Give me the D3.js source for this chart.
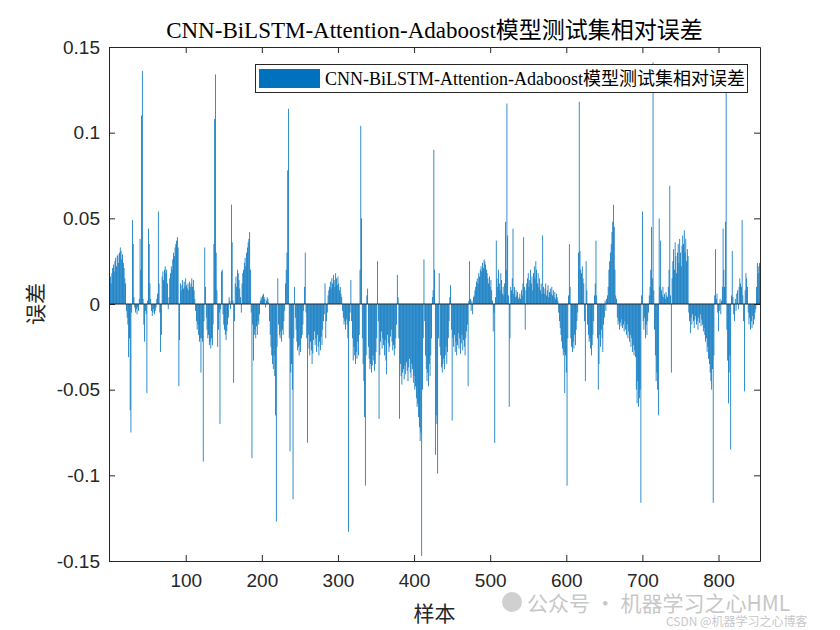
<!DOCTYPE html>
<html><head><meta charset="utf-8">
<script src="https://cdn.jsdelivr.net/npm/d3@7"></script>
<style>body{margin:0;background:#fff;} svg{display:block}</style>
</head><body>
<svg id="c" width="840" height="630"></svg>
<script>
const titleText = "CNN-BiLSTM-Attention-Adaboost模型测试集相对误差";
const legendLabel = "CNN-BiLSTM-Attention-Adaboost模型测试集相对误差";
const xLabel = "样本";
const yLabel = "误差";
const xTicks = [100, 200, 300, 400, 500, 600, 700, 800];
const yTicks = [-0.15, -0.1, -0.05, 0, 0.05, 0.1, 0.15];
const yTickLabels = ["-0.15", "-0.1", "-0.05", "0", "0.05", "0.1", "0.15"];
const xDomain = [-0.8, 854.5];
const yDomain = [-0.15, 0.15];

// relative error per test sample (1..854)
const errors = [
/*1*/ 0.016,0.012,0.018,0.021,0.023,0.019,0.025,0.027,0.022,0.028,0.029,0.024,0.030,0.033,0.031,0.026,0.029,0.024,0.021,0.015,0.012,
/*22*/ -0.004,-0.008,-0.012,-0.031,-0.02,-0.062,-0.075,-0.005,
/*30*/ 0.049,0.035,
/*32*/ 0.004,-0.002,-0.005,-0.003,-0.006,-0.002,-0.004,
/*39*/ 0.003,0.038,0.02,0.11,0.136,
/*44*/ 0.003,-0.012,-0.022,-0.004,-0.006,-0.052,0.002,
/*51*/ 0.044,0.035,0.012,0.003,
/*55*/ -0.004,-0.007,-0.005,-0.003,-0.006,-0.004,-0.002,
/*62*/ 0.003,0.006,0.054,0.012,
/*66*/ -0.005,-0.028,-0.018,
/*69*/ 0.016,0.019,0.014,0.02,0.022,0.018,0.02,0.012,
/*77*/ -0.003,0.004,
/*79*/ 0.015,0.018,0.022,0.02,0.026,0.03,0.028,0.033,0.035,0.037,0.039,0.033,
/*91*/ -0.048,-0.021,
/*93*/ 0.012,0.008,0.011,0.014,0.009,0.013,0.01,0.015,0.011,0.009,0.012,0.008,0.013,0.01,
/*107*/ 0.012,0.015,0.01,0.014,0.008,0.003,
/*113*/ -0.004,-0.01,-0.015,-0.012,-0.018,-0.022,-0.02,-0.04,-0.02,-0.022,
/*123*/ -0.092,-0.01,
/*125*/ 0.033,0.01,
/*127*/ -0.008,-0.015,-0.02,-0.018,-0.024,-0.022,-0.026,-0.02,-0.024,-0.012,
/*137*/ 0.035,0.108,0.134,0.03,0.008,
/*142*/ -0.025,-0.015,-0.005,-0.07,-0.003,
/*147*/ 0.019,0.02,
/*149*/ -0.006,-0.012,-0.015,-0.018,-0.021,-0.016,-0.012,-0.008,
/*157*/ 0.004,0.002,-0.003,
/*160*/ 0.058,0.036,0.002,
/*163*/ -0.046,-0.01,
/*165*/ 0.012,0.016,0.01,0.02,0.018,0.014,0.009,0.004,
/*173*/ -0.005,
/*174*/ 0.012,0.018,0.02,0.024,0.027,0.022,0.03,0.033,0.036,0.038,0.042,0.02,
/*186*/ -0.005,-0.09,
/*188*/ -0.012,-0.033,-0.018,-0.015,-0.02,-0.013,-0.018,-0.01,-0.012,-0.006,
/*198*/ 0.002,0.004,0.003,0.005,0.006,0.004,0.003,-0.002,0.002,0.004,0.003,0.001,
/*210*/ -0.01,-0.018,-0.025,-0.03,-0.035,
/*215*/ -0.038,-0.03,-0.042,-0.065,-0.127,-0.025,0.015,
/*222*/ -0.012,-0.018,-0.02,-0.016,-0.022,-0.015,-0.018,-0.01,-0.004,
/*231*/ 0.012,0.02,0.03,0.078,0.114,
/*236*/ -0.02,-0.086,-0.04,-0.035,-0.05,-0.114,-0.02,
/*243*/ 0.01,
/*244*/ -0.008,-0.015,-0.022,-0.027,-0.025,-0.03,-0.024,-0.028,-0.02,-0.018,-0.012,
/*255*/ -0.004,0.01,0.03,-0.005,
/*259*/ -0.02,-0.081,
/*261*/ -0.018,-0.026,-0.03,-0.022,-0.027,-0.035,-0.029,-0.021,-0.016,-0.024,-0.02,-0.028,-0.018,-0.025,-0.03,-0.022,-0.027,-0.019,-0.024,-0.015,-0.01,-0.006,
/*283*/ 0.012,
/*284*/ -0.02,-0.01,-0.005,
/*287*/ 0.005,0.008,0.01,0.013,0.009,0.015,0.012,0.017,0.014,0.01,0.018,0.015,0.011,0.016,0.012,0.008,0.01,0.006,0.004,
/*306*/ -0.004,-0.008,-0.012,-0.01,-0.015,-0.009,-0.012,-0.02,
/*314*/ -0.133,-0.01,-0.005,
/*317*/ 0.014,
/*318*/ -0.01,-0.02,-0.033,
/*321*/ -0.025,-0.03,-0.035,-0.028,-0.032,-0.022,-0.03,-0.018,0.02,
/*330*/ 0.104,0.05,
/*332*/ -0.02,-0.035,-0.045,-0.066,-0.106,-0.03,
/*338*/ 0.005,0.009,
/*340*/ -0.025,-0.032,-0.038,-0.035,-0.04,-0.036,-0.03,-0.033,-0.039,-0.035,-0.028,-0.02,
/*352*/ 0.025,
/*353*/ -0.01,-0.067,-0.03,
/*356*/ -0.022,-0.016,-0.026,-0.02,-0.024,-0.03,-0.021,-0.033,-0.041,-0.018,-0.023,-0.028,-0.025,-0.019,-0.015,-0.022,-0.027,-0.024,-0.03,-0.026,-0.02,-0.012,
/*378*/ 0.017,0.004,
/*380*/ -0.02,-0.067,
/*382*/ -0.035,-0.042,-0.047,-0.04,-0.038,-0.044,-0.036,-0.041,-0.034,-0.039,-0.045,-0.037,-0.032,-0.04,-0.043,-0.035,-0.038,-0.046,-0.042,-0.05,-0.048,-0.055,-0.06,-0.058,-0.066,-0.072,-0.08,-0.075,
/*410*/ -0.147,-0.05,-0.02,
/*413*/ 0.026,
/*414*/ -0.01,-0.03,-0.038,-0.045,-0.04,-0.048,-0.035,-0.042,-0.03,-0.02,
/*424*/ 0.004,0.008,0.09,0.02,
/*428*/ -0.088,
/*429*/ -0.065,-0.07,-0.099,-0.02,
/*433*/ 0.018,
/*434*/ -0.025,-0.03,-0.037,-0.04,-0.035,-0.032,-0.038,-0.03,-0.025,-0.035,-0.028,-0.02,-0.01,0.004,
/*448*/ 0.011,
/*449*/ -0.015,-0.068,
/*451*/ -0.02,-0.025,-0.018,-0.028,-0.022,-0.03,-0.024,-0.017,-0.026,-0.02,-0.029,-0.023,-0.018,-0.027,-0.021,-0.025,-0.03,-0.02,-0.016,-0.012,
/*471*/ -0.048,
/*472*/ 0.002,0.025,
/*474*/ 0.003,-0.004,0.002,-0.006,0.004,0.005,
/*480*/ 0.008,0.01,0.013,0.015,0.012,0.018,0.016,0.02,0.022,0.019,0.024,0.021,0.026,0.025,0.023,0.02,0.018,0.015,
/*498*/ 0.012,0.016,0.01,0.014,0.008,0.002,
/*504*/ -0.016,-0.005,-0.081,
/*507*/ 0.004,0.037,
/*509*/ 0.015,0.01,0.02,0.012,0.008,0.018,0.014,0.006,0.01,0.005,0.012,
/*520*/ 0.048,0.02,0.117,0.04,0.005,
/*525*/ -0.06,-0.02,
/*527*/ 0.01,0.008,0.015,0.044,
/*531*/ 0.006,0.01,0.004,0.008,0.005,0.007,0.003,0.004,0.006,0.003,0.008,0.005,0.012,0.039,0.01,
/*546*/ -0.015,
/*547*/ 0.008,0.012,0.015,0.018,0.01,0.014,0.02,0.012,0.016,0.008,0.018,0.022,0.015,0.025,0.02,0.012,0.018,0.01,0.015,0.008,0.012,0.006,
/*569*/ 0.04,
/*570*/ 0.01,0.006,0.009,0.012,0.005,0.008,0.011,0.004,0.007,0.009,0.006,0.01,0.005,0.008,0.004,0.007,0.003,0.006,0.004,0.002,
/*590*/ -0.005,-0.01,-0.014,-0.018,-0.022,-0.026,-0.03,-0.028,-0.052,-0.03,-0.04,
/*601*/ -0.106,-0.02,
/*603*/ 0.005,0.035,0.01,
/*606*/ -0.02,-0.025,-0.028,-0.022,-0.026,-0.018,-0.024,-0.015,-0.01,-0.005,
/*616*/ 0.03,0.118,0.031,0.02,0.018,0.022,0.015,0.012,
/*624*/ -0.01,-0.045,
/*626*/ 0.025,0.008,
/*628*/ -0.012,-0.018,-0.022,-0.02,-0.026,-0.03,-0.024,-0.018,-0.01,
/*637*/ 0.005,0.012,0.037,0.005,
/*641*/ -0.02,-0.05,-0.035,-0.018,-0.025,-0.015,-0.02,-0.028,-0.012,-0.008,
/*651*/ 0.002,-0.004,0.003,0.005,0.01,
/*656*/ 0.02,0.025,0.03,0.035,0.042,0.048,0.058,0.045,0.02,0.005,0.003,
/*667*/ -0.008,-0.012,-0.01,-0.015,-0.011,-0.013,-0.009,-0.014,-0.012,-0.016,-0.01,-0.015,-0.018,-0.012,-0.02,-0.016,-0.022,-0.018,-0.025,-0.02,-0.028,-0.024,-0.03,-0.027,-0.031,
/*692*/ -0.05,-0.058,-0.045,-0.06,-0.055,-0.05,-0.116,
/*699*/ 0.005,0.054,
/*701*/ -0.01,-0.015,-0.008,-0.02,-0.012,-0.018,-0.01,-0.005,
/*709*/ 0.005,0.01,0.02,0.045,0.015,0.141,0.008,
/*716*/ -0.015,-0.03,-0.045,-0.04,-0.05,-0.065,
/*722*/ 0.05,0.01,0.037,0.008,0.005,0.01,0.004,0.006,0.003,0.007,0.005,0.004,0.01,0.02,0.069,0.005,
/*738*/ -0.04,
/*739*/ 0.015,0.025,0.032,0.02,0.036,0.028,0.018,0.03,0.035,0.024,0.038,0.03,0.022,0.034,0.04,0.035,0.043,0.03,0.038,0.025,0.032,0.028,
/*761*/ -0.005,-0.01,-0.017,
/*764*/ -0.008,-0.012,-0.006,-0.01,-0.014,-0.009,-0.007,-0.012,-0.01,-0.015,-0.008,-0.011,-0.006,-0.013,-0.009,-0.012,-0.016,-0.014,
/*782*/ -0.018,-0.022,-0.02,-0.028,-0.025,-0.032,-0.035,-0.04,-0.045,-0.05,-0.038,-0.116,-0.03,
/*795*/ 0.005,0.032,0.003,0.006,
/*799*/ -0.005,-0.016,
/*801*/ -0.004,0.003,-0.006,0.002,0.01,
/*806*/ 0.044,0.02,0.01,0.048,0.128,
/*811*/ -0.015,-0.033,-0.058,-0.04,-0.03,-0.085,
/*817*/ 0.005,0.031,
/*819*/ 0.004,-0.006,-0.01,0.003,-0.004,0.006,0.008,-0.003,0.01,
/*828*/ 0.015,0.012,0.01,0.049,0.005,
/*833*/ -0.01,-0.051,
/*835*/ 0.008,0.018,0.015,0.01,
/*839*/ -0.005,-0.012,-0.008,-0.015,-0.01,-0.014,-0.007,-0.012,-0.009,-0.005,-0.003,
/*850*/ 0.01,0.024,0.018,0.022,0.024
];
const samples = errors.map((d, i) => i + 1);

const W = 840, H = 630;
const M = {left: 109, right: 760, top: 47, bottom: 561};
const axisColor = "#262626";
const barColor = "#0072BD";
const numFont = "'Liberation Sans', Arial, Helvetica, sans-serif";
const serifFont = "'Liberation Serif', 'Times New Roman', 'Noto Sans CJK SC', serif";
const cjkFont = "'Noto Sans CJK SC', sans-serif";

const svg = d3.select("#c");
svg.append("rect").attr("width", W).attr("height", H).attr("fill", "#fff");

const x = d3.scaleLinear().domain(xDomain).range([M.left, M.right]);
const y = d3.scaleLinear().domain(yDomain).range([M.bottom, M.top]);

svg.append("defs").append("clipPath").attr("id", "clip")
  .append("rect").attr("x", M.left).attr("y", M.top)
  .attr("width", M.right - M.left).attr("height", M.bottom - M.top);

const bw = (x(1) - x(0)) * 1.05;
svg.append("g").attr("clip-path", "url(#clip)")
  .selectAll("rect").data(samples).join("rect")
  .attr("x", (s) => x(s) - bw / 2)
  .attr("width", bw)
  .attr("y", (s, i) => Math.min(y(errors[i]), y(0)))
  .attr("height", (s, i) => Math.abs(y(errors[i]) - y(0)))
  .attr("fill", barColor);

// baseline
svg.append("line").attr("x1", M.left).attr("x2", M.right)
  .attr("y1", y(0)).attr("y2", y(0))
  .attr("stroke", axisColor).attr("stroke-width", 1);

function styleAxis(g) {
  g.select(".domain").attr("stroke", axisColor).attr("stroke-width", 1);
  g.selectAll(".tick line").attr("stroke", axisColor).attr("stroke-width", 1);
  g.selectAll(".tick text").attr("fill", axisColor)
    .style("font-family", numFont).style("font-size", "19px");
}

svg.append("g").attr("transform", `translate(${M.left},0)`)
  .call(d3.axisLeft(y).tickValues(yTicks).tickSize(-6).tickSizeOuter(0).tickPadding(9)
    .tickFormat((d, i) => yTickLabels[i]))
  .call(styleAxis);
svg.append("g").attr("transform", `translate(${M.right},0)`)
  .call(d3.axisRight(y).tickValues(yTicks).tickSize(-6).tickSizeOuter(0).tickFormat(""))
  .call(styleAxis);
svg.append("g").attr("transform", `translate(0,${M.bottom})`)
  .call(d3.axisBottom(x).tickValues(xTicks).tickSize(-6).tickSizeOuter(0).tickPadding(13)
    .tickFormat(d3.format("d")))
  .call(styleAxis);
svg.append("g").attr("transform", `translate(0,${M.top})`)
  .call(d3.axisTop(x).tickValues(xTicks).tickSize(-6).tickSizeOuter(0).tickFormat(""))
  .call(styleAxis);

// title
svg.append("text").attr("x", (M.left + M.right) / 2).attr("y", 38)
  .attr("text-anchor", "middle").attr("fill", "#000")
  .style("font-family", serifFont).style("font-size", "23px")
  .text(titleText);

// axis labels
svg.append("text").attr("x", (M.left + M.right) / 2).attr("y", 621)
  .attr("text-anchor", "middle").attr("fill", axisColor)
  .style("font-family", cjkFont).style("font-size", "21px")
  .text(xLabel);
svg.append("text").attr("transform", `translate(43,${y(0)}) rotate(-90)`)
  .attr("text-anchor", "middle").attr("fill", axisColor)
  .style("font-family", cjkFont).style("font-size", "21px")
  .text(yLabel);

// legend
const lg = svg.append("g");
lg.append("rect").attr("x", 255.5).attr("y", 64.5).attr("width", 492).attr("height", 28)
  .attr("fill", "#fff").attr("stroke", axisColor).attr("stroke-width", 1);
lg.append("rect").attr("x", 259).attr("y", 69).attr("width", 61).attr("height", 19)
  .attr("fill", barColor);
lg.append("text").attr("x", 325).attr("y", 84.5).attr("fill", "#000")
  .style("font-family", serifFont).style("font-size", "18px")
  .text(legendLabel);

// watermark
const wm = svg.append("g").attr("opacity", 0.55);
wm.append("circle").attr("cx", 512).attr("cy", 602).attr("r", 10).attr("fill", "#aaa");
wm.append("text").attr("x", 527).attr("y", 611).attr("fill", "#9a9a9a")
  .style("font-family", cjkFont).style("font-size", "21px")
  .text("公众号 · 机器学习之心HML");
wm.append("text").attr("x", 666).attr("y", 626).attr("fill", "#9a9a9a")
  .style("font-family", cjkFont).style("font-size", "12px")
  .text("CSDN @机器学习之心博客");
</script>
</body></html>
